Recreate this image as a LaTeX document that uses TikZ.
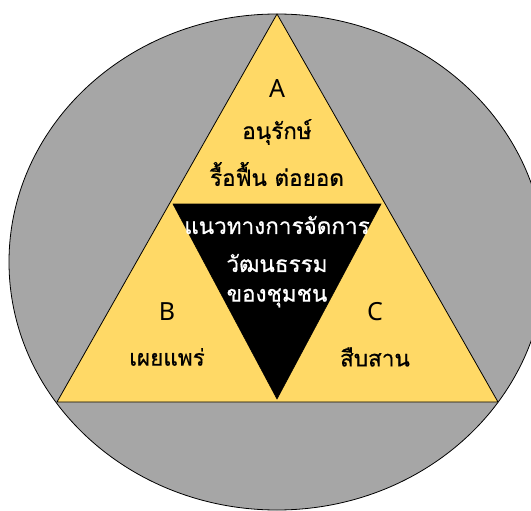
\documentclass[tikz,border=0pt]{standalone}
\usepackage{fontspec}
\usetikzlibrary{positioning}
\newfontfamily\thaifont[Script=Thai, FakeBold=0.7]{Loma}
\newfontfamily\latinfont{Noto Sans}
\definecolor{DiscGray}{HTML}{A6A6A6}
\definecolor{PartYellow}{HTML}{FFD966}

\begin{document}
\begin{tikzpicture}[x=1pt, y=-1pt,
  letter/.style={font=\latinfont\fontsize{25}{30}\selectfont, inner sep=0pt},
  parttext/.style={font=\thaifont\fontsize{22.5}{26}\selectfont, inner sep=0pt},
  coretext/.style={parttext, text=white}
]
\useasboundingbox (0,0) rectangle (531,511);
\clip (0,0) rectangle (531,511);
\draw[fill=DiscGray, line width=0.8pt] (277,262) ellipse [x radius=268, y radius=248];

\coordinate (apex) at (277,14);
\coordinate (left) at (57,402);
\coordinate (right) at (498,402);
\coordinate (inL) at (173,204);
\coordinate (inR) at (381,204);
\coordinate (inB) at (277,399);
\draw[fill=PartYellow, line width=0.8pt, line join=round] (apex) -- (left) -- (right) -- cycle;
\draw[fill=black, line width=0.6pt] (inL) -- (inR) -- (inB) -- cycle;

\node[letter] (lblA) at (277,89) {A};
\node[parttext] (conserve) at (277,132) {อนุรักษ์};
\node[parttext] (revive) at (277,174) {รื้อฟื้น ต่อยอด};

\node[coretext] (core1) at (277,225) {แนวทางการจัดการ};
\node[coretext] (core2) at (277,263) {วัฒนธรรม};
\node[coretext] (core3) at (277,298) {ของชุมชน};

\node[letter] (lblB) at (167,312) {B};
\node[parttext] (spread) at (167,357) {เผยแพร่};
\node[letter] (lblC) at (375,312) {C};
\node[parttext] (inherit) at (375,357) {สืบสาน};
\end{tikzpicture}
\end{document}
